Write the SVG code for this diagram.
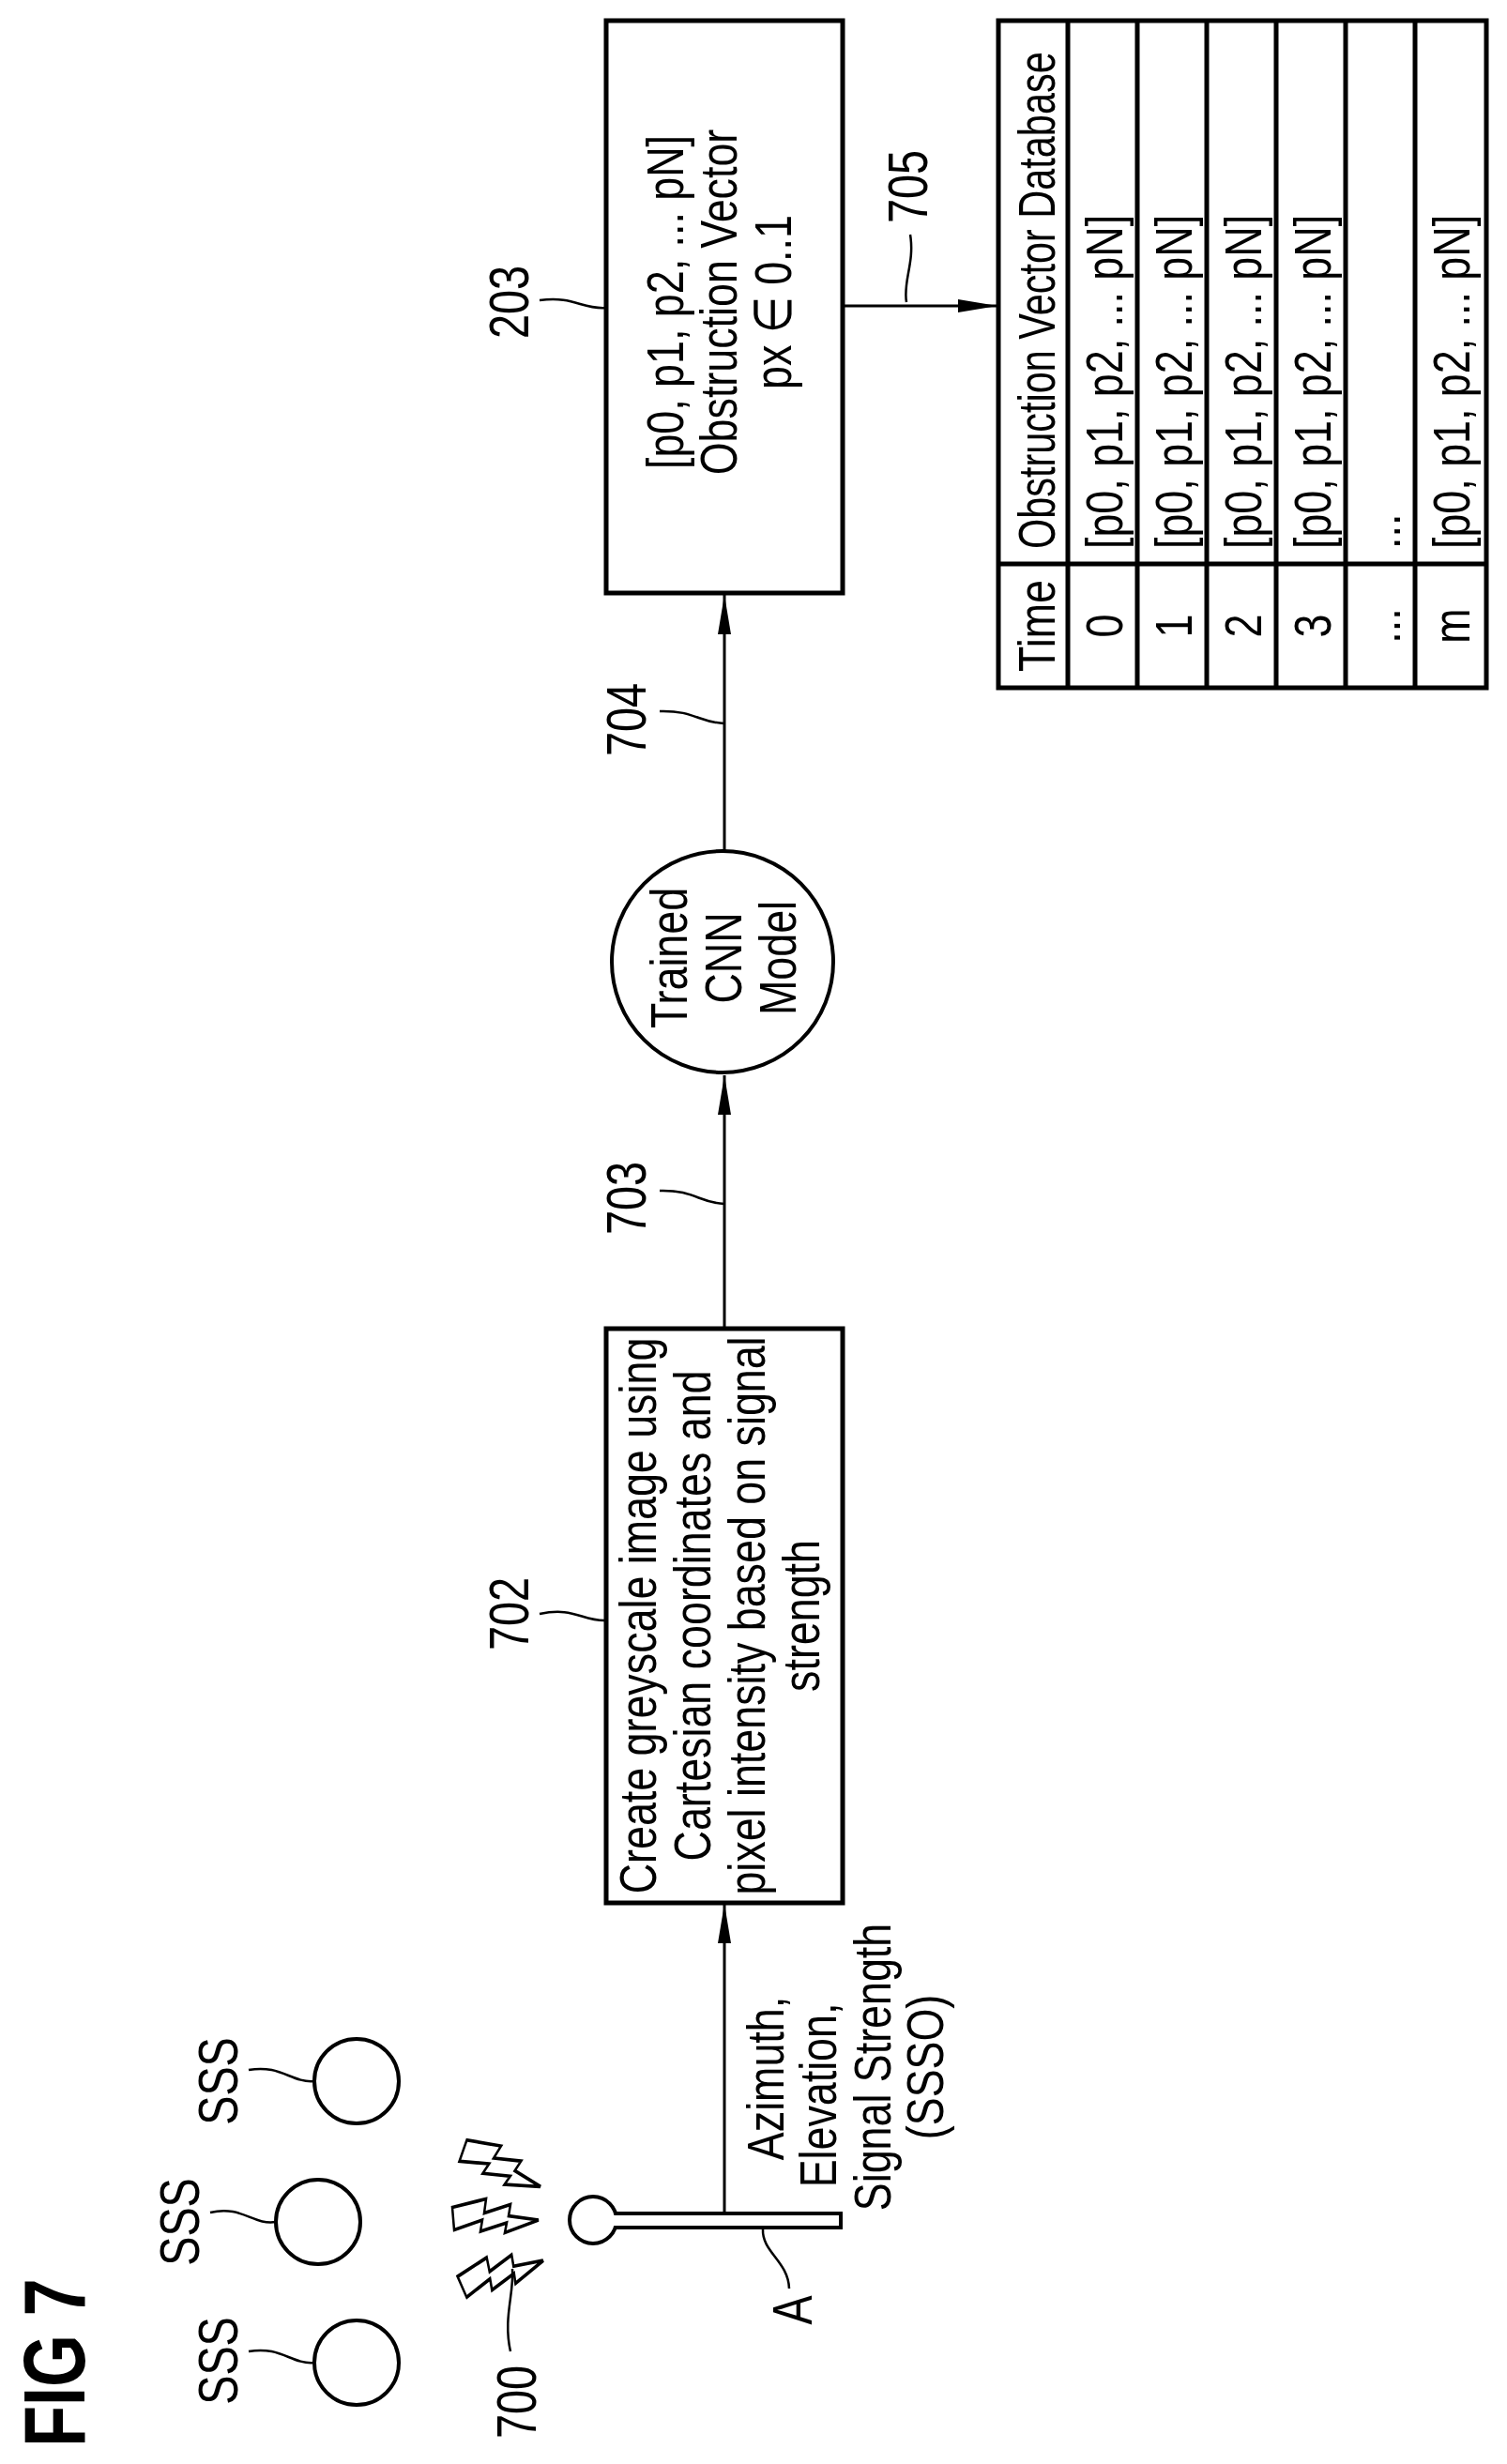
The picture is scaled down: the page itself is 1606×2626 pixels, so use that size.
<svg xmlns="http://www.w3.org/2000/svg" width="1606" height="2626" viewBox="0 0 1606 2626">
<style>
text{font-family:"Liberation Sans",Arial,sans-serif;font-size:56px;fill:#000}
.lbl{font-size:60px}
.fig{font-size:92px;font-weight:bold}
.box{fill:#fff;stroke:#000;stroke-width:5}
.ln{fill:none;stroke:#000;stroke-width:3}
.sq{fill:none;stroke:#000;stroke-width:2.5}
.tb{fill:none;stroke:#000;stroke-width:5}
</style>
<defs>
<marker id="ah" markerUnits="userSpaceOnUse" markerWidth="44" markerHeight="18" refX="42" refY="9" orient="auto">
<path d="M0,2 L42,9 L0,16 Z" fill="#000"/>
</marker>
<path id="bolt" d="M0,-9 L36,-15 L34,-5 L62,-11 L60,-3 L92,0 L56,9 L58,2 L30,8 L32,0 L2,7 Z" fill="#fff" stroke="#000" stroke-width="2.5" stroke-linejoin="miter"/>
</defs>

<text class="fig" transform="translate(90,2518) rotate(-90) scale(0.78,1)" text-anchor="middle">FIG 7</text>

<g id="sss1">
<circle cx="380" cy="2518" r="45" fill="none" stroke="#000" stroke-width="4"/>
<path class="sq" d="M335,2518 C310,2520 300,2500 265,2506"/>
<text class="lbl" transform="translate(253,2516) rotate(-90) scale(0.78,1)" text-anchor="middle">SSS</text>
</g>
<g id="sss2">
<circle cx="339" cy="2368" r="45" fill="none" stroke="#000" stroke-width="4"/>
<path class="sq" d="M294,2368 C270,2372 258,2350 224,2358"/>
<text class="lbl" transform="translate(212,2368) rotate(-90) scale(0.78,1)" text-anchor="middle">SSS</text>
</g>
<g id="sss3">
<circle cx="380" cy="2218" r="45" fill="none" stroke="#000" stroke-width="4"/>
<path class="sq" d="M335,2218 C310,2220 300,2200 265,2206"/>
<text class="lbl" transform="translate(253,2218) rotate(-90) scale(0.78,1)" text-anchor="middle">SSS</text>
</g>

<g id="bolts">
<use href="#bolt" transform="translate(492,2293) rotate(24) scale(1,1.5)"/>
<use href="#bolt" transform="translate(482,2366) scale(1,1.5)"/>
<use href="#bolt" transform="translate(492,2439) rotate(-19) scale(1,1.5)"/>
<path class="sq" d="M546,2418 C548,2445 536,2470 544,2506"/>
<text class="lbl" transform="translate(571,2560) rotate(-90) scale(0.78,1)" text-anchor="middle">700</text>
</g>

<g id="antenna">
<rect x="655" y="2359" width="241" height="15" fill="#fff" stroke="#000" stroke-width="4"/>
<circle cx="632" cy="2366" r="25" fill="#fff" stroke="#000" stroke-width="4"/>
<rect x="650" y="2361" width="10" height="11" fill="#fff"/>
<path class="sq" d="M813,2376 C812,2400 840,2410 841,2439"/>
<text class="lbl" transform="translate(865,2462) rotate(-90) scale(0.78,1)" text-anchor="middle">A</text>
</g>

<g id="connectors">
<line class="ln" x1="772" y1="2359" x2="772" y2="2029" marker-end="url(#ah)"/>
<line class="ln" x1="772" y1="1416" x2="772" y2="1146" marker-end="url(#ah)"/>
<line class="ln" x1="772" y1="906" x2="772" y2="634" marker-end="url(#ah)"/>
<line class="ln" x1="898" y1="326" x2="1063" y2="326" marker-end="url(#ah)"/>
<path class="sq" d="M772,1940 C745,1938 745,1918 720,1912"/>
<text class="lbl" transform="translate(688,1910) rotate(-90) scale(0.78,1)" text-anchor="middle">701</text>
<text transform="translate(835,2215) rotate(-90) scale(0.8,1)" text-anchor="middle">Azimuth,</text>
<text transform="translate(891,2233) rotate(-90) scale(0.8,1)" text-anchor="middle">Elevation,</text>
<text transform="translate(949,2203) rotate(-90) scale(0.8,1)" text-anchor="middle">Signal Strength</text>
<text transform="translate(1005,2203) rotate(-90) scale(0.8,1)" text-anchor="middle">(SSSO)</text>
<path class="sq" d="M772,1283 C745,1282 740,1268 703,1269"/>
<text class="lbl" transform="translate(688,1277) rotate(-90) scale(0.78,1)" text-anchor="middle">703</text>
<path class="sq" d="M772,771 C745,770 740,757 703,758"/>
<text class="lbl" transform="translate(688,767) rotate(-90) scale(0.78,1)" text-anchor="middle">704</text>
<path class="sq" d="M966,322 C962,300 975,280 970,250"/>
<text class="lbl" transform="translate(988,199) rotate(-90) scale(0.78,1)" text-anchor="middle">705</text>
</g>

<g id="n702">
<rect class="box" x="646" y="1416" width="252" height="612"/>
<text transform="translate(699,1722) rotate(-90) scale(0.8,1)" text-anchor="middle">Create greyscale image using</text>
<text transform="translate(757,1722) rotate(-90) scale(0.8,1)" text-anchor="middle">Cartesian coordinates and</text>
<text transform="translate(815,1722) rotate(-90) scale(0.8,1)" text-anchor="middle">pixel intensity based on signal</text>
<text transform="translate(873,1722) rotate(-90) scale(0.8,1)" text-anchor="middle">strength</text>
<path class="sq" d="M646,1727 C620,1728 612,1712 575,1720"/>
<text class="lbl" transform="translate(563,1720) rotate(-90) scale(0.78,1)" text-anchor="middle">702</text>
</g>

<g id="cnn">
<circle cx="770" cy="1025" r="118" fill="#fff" stroke="#000" stroke-width="4"/>
<text transform="translate(732,1021) rotate(-90) scale(0.8,1)" text-anchor="middle">Trained</text>
<text transform="translate(790,1021) rotate(-90) scale(0.8,1)" text-anchor="middle">CNN</text>
<text transform="translate(848,1021) rotate(-90) scale(0.8,1)" text-anchor="middle">Model</text>
</g>

<g id="n203">
<rect class="box" x="646" y="22" width="252" height="610"/>
<text transform="translate(728,322) rotate(-90) scale(0.8,1)" text-anchor="middle">[p0, p1, p2, ... pN]</text>
<text transform="translate(785,322) rotate(-90) scale(0.8,1)" text-anchor="middle">Obstruction Vector</text>
<text transform="translate(843,322) rotate(-90) scale(0.8,1)" text-anchor="middle">px ∈ 0..1</text>
<path class="sq" d="M646,328 C620,330 612,315 575,320"/>
<text class="lbl" transform="translate(563,322) rotate(-90) scale(0.78,1)" text-anchor="middle">203</text>
</g>

<g id="database">
<rect class="tb" x="1064" y="22" width="520" height="711"/>
<line class="tb" x1="1064" y1="601" x2="1584" y2="601"/>
<line class="tb" x1="1138" y1="22" x2="1138" y2="733"/>
<line class="tb" x1="1212" y1="22" x2="1212" y2="733"/>
<line class="tb" x1="1286" y1="22" x2="1286" y2="733"/>
<line class="tb" x1="1360" y1="22" x2="1360" y2="733"/>
<line class="tb" x1="1434" y1="22" x2="1434" y2="733"/>
<line class="tb" x1="1508" y1="22" x2="1508" y2="733"/>
<text transform="translate(1124,667) rotate(-90) scale(0.8,1)" text-anchor="middle">Time</text>
<text transform="translate(1124,585) rotate(-90) scale(0.74,1)">Obstruction Vector Database</text>
<text transform="translate(1196,667) rotate(-90) scale(0.8,1)" text-anchor="middle">0</text>
<text transform="translate(1196,585) rotate(-90) scale(0.8,1)">[p0, p1, p2, ... pN]</text>
<text transform="translate(1270,667) rotate(-90) scale(0.8,1)" text-anchor="middle">1</text>
<text transform="translate(1270,585) rotate(-90) scale(0.8,1)">[p0, p1, p2, ... pN]</text>
<text transform="translate(1344,667) rotate(-90) scale(0.8,1)" text-anchor="middle">2</text>
<text transform="translate(1344,585) rotate(-90) scale(0.8,1)">[p0, p1, p2, ... pN]</text>
<text transform="translate(1418,667) rotate(-90) scale(0.8,1)" text-anchor="middle">3</text>
<text transform="translate(1418,585) rotate(-90) scale(0.8,1)">[p0, p1, p2, ... pN]</text>
<text transform="translate(1492,667) rotate(-90) scale(0.8,1)" text-anchor="middle">...</text>
<text transform="translate(1492,585) rotate(-90) scale(0.8,1)">...</text>
<text transform="translate(1566,667) rotate(-90) scale(0.8,1)" text-anchor="middle">m</text>
<text transform="translate(1566,585) rotate(-90) scale(0.8,1)">[p0, p1, p2, ... pN]</text>
</g>
</svg>
